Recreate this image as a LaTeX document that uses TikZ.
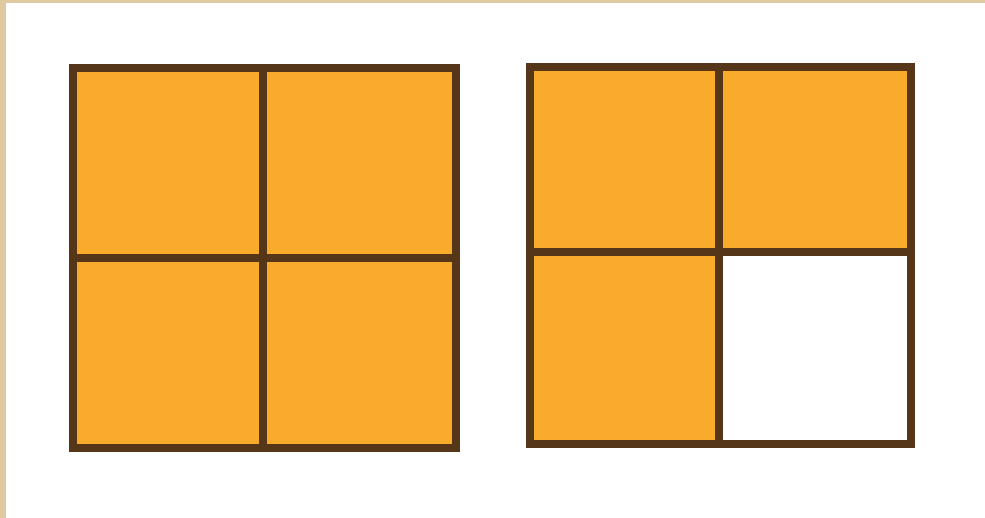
\documentclass[tikz,border=0pt]{standalone}
\usepackage{xcolor}
\definecolor{cellorange}{HTML}{F9AC2B}
\definecolor{gridbrown}{HTML}{553618}
\definecolor{frametan}{HTML}{DFC9A0}
\usetikzlibrary{positioning}

\begin{document}
\begin{tikzpicture}[
  x=1pt, y=-1pt,
  cell/.style={fill=cellorange},
  blank/.style={fill=white},
  gridline/.style={draw=gridbrown, line width=7.5pt, line cap=rect},
]
\useasboundingbox (0,0) rectangle (985,518);
\fill[white] (0,0) rectangle (985,518);
% frame strips
\fill[frametan] (0,0) rectangle (985,3);
\fill[frametan] (0,0) rectangle (6,518);
% left square: all four shaded
\fill[cell] (73,68) rectangle (456,448);
\draw[gridline] (73,68) rectangle (456,448);
\draw[gridline] (263,68) -- (263,448);
\draw[gridline] (73,258) -- (456,258);
% right square: three shaded
\fill[cell] (530,67) rectangle (911,444);
\fill[blank] (719,252) rectangle (911,444);
\draw[gridline] (530,67) rectangle (911,444);
\draw[gridline] (719,67) -- (719,444);
\draw[gridline] (530,252) -- (911,252);
\end{tikzpicture}
\end{document}
